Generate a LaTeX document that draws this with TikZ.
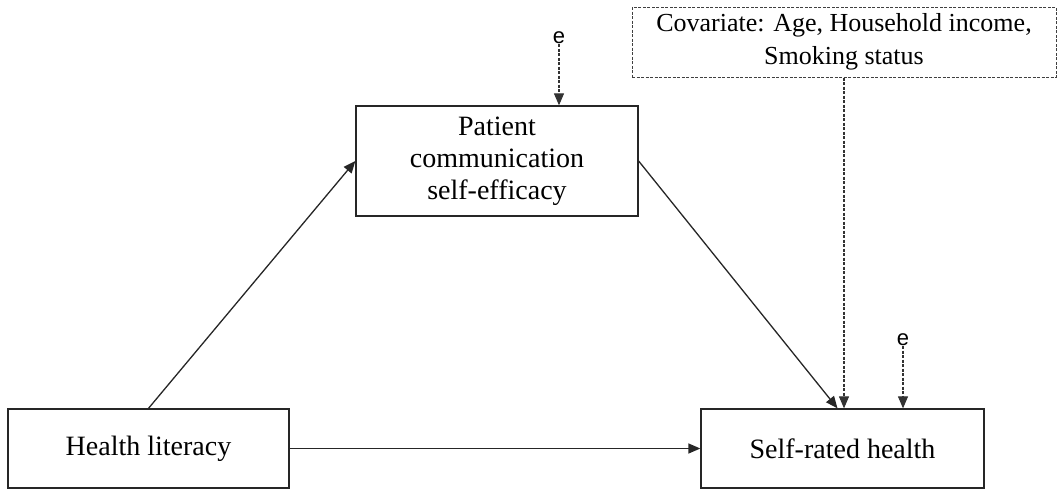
\documentclass[tikz,border=0pt]{standalone}
\usepackage{fontspec}
\setmainfont{Liberation Serif}
\newfontfamily\efont{Liberation Sans}
\usetikzlibrary{arrows.meta}
\begin{document}
\begin{tikzpicture}[x=1pt,y=-1pt,
  box/.style={draw=black!85, line width=1.3pt, inner sep=0pt, font=\fontsize{28}{32}\selectfont, align=center},
  covbox/.style={draw=black!75, line width=1pt, dash pattern=on 3pt off 1.5pt, inner sep=0pt, font=\fontsize{26}{33}\selectfont, align=center},
  arr/.style={draw=black!85, line width=1.3pt, -{Triangle[length=12pt,width=10pt]}},
  darr/.style={draw=black!80, line width=1.1pt, dash pattern=on 3pt off 1.5pt, -{Triangle[length=12pt,width=10pt,sep=0pt]}},
  elabel/.style={font=\efont\fontsize{22}{24}\selectfont, inner sep=0pt}]
\useasboundingbox (0,0) rectangle (1058,490);
\node[box, minimum width=282pt, minimum height=110pt] (pce) at (497,161) {Patient\\communication\\self-efficacy};
\node[box, minimum width=281pt, minimum height=79pt] (hl) at (148.5,448.5) {Health literacy};
\node[box, minimum width=283pt, minimum height=79pt] (srh) at (842.5,448.5) {Self-rated health};
\node[covbox, minimum width=424pt, minimum height=70pt] (cov) at (844,42) {Covariate: Age, Household income,\\Smoking status};
\node[elabel] (e1) at (559,38) {e};
\node[elabel] (e2) at (903,340) {e};
\draw[arr] (hl.north) -- (pce.west);
\draw[arr] (pce.east) -- ([xshift=-5pt]srh.north);
\draw[arr] (hl.east) -- (srh.west);
\draw[darr] (cov.south) -- (cov.south |- srh.north);
\draw[darr] (e1.south) -- (e1.south |- pce.north);
\draw[darr] (e2.south) -- (e2.south |- srh.north);
\end{tikzpicture}
\end{document}
